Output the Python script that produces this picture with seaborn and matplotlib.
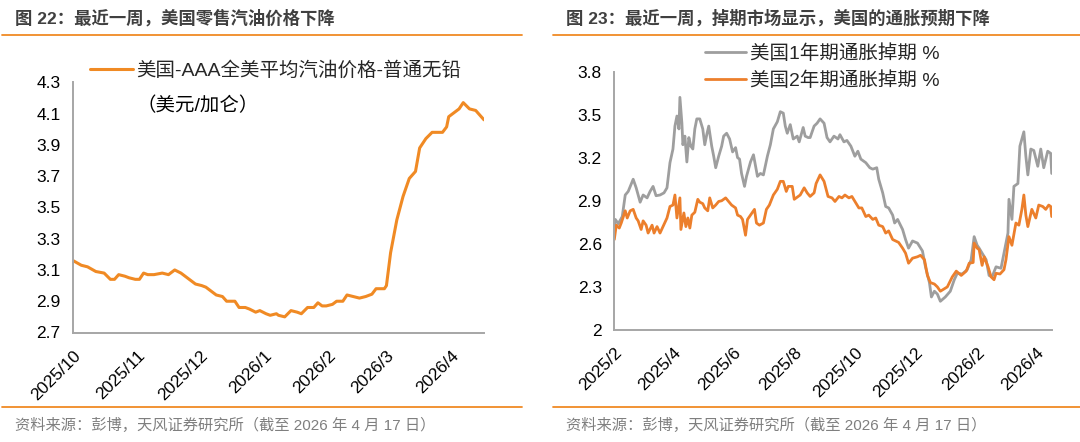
import numpy as np
import pandas as pd
import matplotlib
matplotlib.use("Agg")
import matplotlib.pyplot as plt
from matplotlib.lines import Line2D
import seaborn as sns

# ---------------- data ----------------
# Left chart: AAA US average regular gasoline price (USD / gallon)
GAS_START = "2025-10-01"
gas_day = [0, 4, 7, 11, 15, 18, 20, 22, 25, 27, 30, 32, 34, 36, 39, 43, 46, 49, 52, 54,
           57, 59, 62, 64, 67, 69, 72, 74, 78, 80, 83, 85, 88, 90, 93, 95, 98, 99, 102, 105,
           108, 110, 113, 116, 118, 120, 122, 125, 127, 130, 132, 135, 138, 141, 144, 146, 150, 151, 153, 156,
           159, 162, 165, 167, 170, 173, 175, 178, 180, 181, 184, 186, 188, 191, 194, 196, 198]
gas_price = [3.16, 3.13, 3.12, 3.09, 3.08, 3.04, 3.04, 3.07, 3.06, 3.05, 3.04, 3.04, 3.08, 3.07, 3.07, 3.08, 3.07, 3.10, 3.08, 3.06,
             3.03, 3.01, 3.00, 2.99, 2.96, 2.94, 2.93, 2.90, 2.90, 2.86, 2.86, 2.85, 2.83, 2.84, 2.82, 2.81, 2.82, 2.81, 2.80, 2.84,
             2.83, 2.82, 2.86, 2.86, 2.89, 2.87, 2.87, 2.88, 2.90, 2.90, 2.94, 2.93, 2.92, 2.93, 2.945, 2.98, 2.98, 3.00, 3.21, 3.42,
             3.57, 3.685, 3.73, 3.88, 3.94, 3.98, 3.98, 3.98, 4.015, 4.08, 4.11, 4.13, 4.17, 4.13, 4.12, 4.09, 4.06]
gas_label = "美国-AAA全美平均汽油价格-普通无铅"
gas_unit = "（美元/加仑）"
gas_xticks = ["2025-10-01", "2025-11-01", "2025-12-01", "2026-01-01", "2026-02-01", "2026-03-01", "2026-04-01"]
gas_xlabels = ["2025/10", "2025/11", "2025/12", "2026/1", "2026/2", "2026/3", "2026/4"]
gas_yticks = [2.7, 2.9, 3.1, 3.3, 3.5, 3.7, 3.9, 4.1, 4.3]
gas_ylabels = ["2.7", "2.9", "3.1", "3.3", "3.5", "3.7", "3.9", "4.1", "4.3"]

# Right chart: US inflation swaps (%)
SWAP_START = "2025-02-01"
swap1_day = [0, 1, 4, 8, 11, 14, 19, 22, 26, 29, 33, 36, 39, 42, 46, 50, 53, 56, 59, 61,
             63, 65, 66, 68, 69, 71, 73, 75, 77, 79, 81, 83, 86, 89, 91, 93, 95, 98, 100, 102,
             105, 108, 110, 113, 116, 119, 122, 124, 126, 128, 131, 133, 135, 137, 140, 144, 147, 150, 154, 157,
             160, 164, 167, 170, 172, 174, 177, 180, 184, 186, 190, 192, 195, 197, 201, 204, 207, 211, 214, 217,
             221, 225, 227, 231, 234, 238, 242, 245, 248, 253, 257, 260, 264, 266, 270, 273, 276, 280, 282, 285,
             290, 293, 296, 300, 305, 310, 313, 317, 319, 322, 325, 328, 333, 338, 342, 345, 350, 355, 359, 362,
             365, 367, 370, 374, 377, 380, 384, 389, 392, 396, 397, 400, 402, 406, 408, 412, 414, 416, 419, 422,
             426, 429, 432, 436, 439, 440]
swap1_val = [2.72, 2.77, 2.74, 2.79, 2.94, 2.965, 3.05, 2.99, 2.89, 2.94, 2.92, 2.965, 3.00, 2.935, 2.94, 2.955, 2.99, 3.165, 3.26, 3.42,
             3.49, 3.40, 3.62, 3.44, 3.29, 3.35, 3.17, 3.34, 3.28, 3.26, 3.40, 3.47, 3.47, 3.40, 3.29, 3.36, 3.42, 3.28, 3.21, 3.13,
             3.21, 3.28, 3.35, 3.37, 3.33, 3.24, 3.27, 3.20, 3.19, 3.09, 3.00, 3.07, 3.12, 3.17, 3.22, 3.07, 3.09, 3.08, 3.21, 3.29,
             3.40, 3.45, 3.52, 3.51, 3.42, 3.37, 3.43, 3.33, 3.35, 3.31, 3.41, 3.35, 3.34, 3.34, 3.42, 3.44, 3.47, 3.44, 3.34, 3.31,
             3.35, 3.33, 3.36, 3.31, 3.32, 3.28, 3.21, 3.245, 3.19, 3.165, 3.13, 3.12, 3.13, 3.05, 2.955, 2.86, 2.85, 2.80, 2.745, 2.77,
             2.70, 2.63, 2.57, 2.62, 2.605, 2.55, 2.44, 2.33, 2.23, 2.27, 2.25, 2.20, 2.23, 2.27, 2.35, 2.395, 2.39, 2.42, 2.49, 2.65,
             2.59, 2.57, 2.535, 2.49, 2.38, 2.37, 2.44, 2.43, 2.535, 2.675, 2.91, 2.77, 3.00, 3.02, 3.28, 3.38, 3.21, 3.08, 3.26, 3.25,
             3.14, 3.26, 3.13, 3.245, 3.23, 3.09]
swap2_day = [0, 2, 5, 7, 11, 13, 16, 19, 22, 24, 27, 29, 32, 34, 38, 40, 43, 46, 49, 53,
             56, 59, 61, 63, 66, 67, 70, 72, 74, 76, 78, 81, 84, 86, 89, 91, 94, 96, 99, 102,
             105, 108, 112, 115, 118, 122, 124, 127, 129, 132, 134, 137, 141, 143, 146, 150, 153, 156, 160, 164,
             167, 170, 173, 175, 179, 181, 185, 187, 191, 194, 197, 201, 203, 207, 211, 215, 219, 222, 226, 229,
             232, 236, 239, 243, 246, 249, 253, 256, 260, 263, 266, 270, 273, 276, 280, 283, 286, 290, 293, 296,
             300, 305, 308, 312, 315, 318, 322, 325, 328, 335, 340, 344, 349, 354, 357, 361, 362, 365, 367, 370,
             372, 376, 379, 382, 384, 388, 392, 394, 397, 400, 404, 407, 410, 412, 414, 416, 420, 424, 427, 431,
             434, 437, 439, 440]
swap2_val = [2.63, 2.73, 2.71, 2.745, 2.83, 2.78, 2.83, 2.84, 2.78, 2.76, 2.70, 2.76, 2.73, 2.675, 2.73, 2.675, 2.72, 2.675, 2.72, 2.78,
             2.86, 2.87, 2.94, 2.78, 2.92, 2.70, 2.815, 2.72, 2.78, 2.71, 2.80, 2.82, 2.91, 2.89, 2.88, 2.85, 2.83, 2.92, 2.85, 2.87,
             2.895, 2.90, 2.92, 2.895, 2.87, 2.85, 2.80, 2.79, 2.77, 2.66, 2.77, 2.80, 2.84, 2.745, 2.73, 2.745, 2.84, 2.87, 2.94, 2.98,
             3.035, 3.035, 2.965, 3.00, 3.00, 2.91, 2.93, 2.94, 2.99, 2.955, 2.93, 2.955, 3.02, 3.08, 3.035, 2.93, 2.92, 2.895, 2.93, 2.92,
             2.94, 2.92, 2.93, 2.885, 2.85, 2.85, 2.79, 2.80, 2.77, 2.78, 2.73, 2.72, 2.675, 2.69, 2.63, 2.62, 2.61, 2.57, 2.535, 2.465,
             2.50, 2.51, 2.52, 2.49, 2.38, 2.33, 2.32, 2.30, 2.27, 2.30, 2.37, 2.41, 2.38, 2.41, 2.465, 2.47, 2.605, 2.57, 2.56, 2.45,
             2.51, 2.44, 2.37, 2.35, 2.395, 2.39, 2.42, 2.49, 2.65, 2.59, 2.745, 2.73, 2.84, 2.94, 2.80, 2.72, 2.84, 2.78, 2.87, 2.86,
             2.84, 2.87, 2.86, 2.79]
swap1_label = "美国1年期通胀掉期 %"
swap2_label = "美国2年期通胀掉期 %"
swap_xticks = ["2025-02-01", "2025-04-01", "2025-06-01", "2025-08-01", "2025-10-01", "2025-12-01", "2026-02-01", "2026-04-01"]
swap_xlabels = ["2025/2", "2025/4", "2025/6", "2025/8", "2025/10", "2025/12", "2026/2", "2026/4"]
swap_yticks = [2.0, 2.3, 2.6, 2.9, 3.2, 3.5, 3.8]
swap_ylabels = ["2", "2.3", "2.6", "2.9", "3.2", "3.5", "3.8"]

title_left = "图 22：最近一周，美国零售汽油价格下降"
title_right = "图 23：最近一周，掉期市场显示，美国的通胀预期下降"
source_text = "资料来源：彭博，天风证券研究所（截至 2026 年 4 月 17 日）"

# ---------------- style ----------------
sns.set_style("white")
plt.rcParams["font.family"] = ["Liberation Sans", "Noto Sans CJK SC", "DejaVu Sans"]
plt.rcParams["axes.unicode_minus"] = False

ORANGE = "#F08A24"
ORANGE2 = "#EC7F2C"
GRAY = "#9E9E9E"
AXIS = "#A6A6A6"
TITLE_C = "#404040"
SRC_C = "#7F7F7F"

W, H = 1080, 442
fig = plt.figure(figsize=(W / 100, H / 100), dpi=100)
fig.patch.set_facecolor("white")


def fx(px):
    return px / W


def fy(py):
    return 1 - py / H


def style_axes(ax, xticks, xlabels, yticks, ylabels):
    for s in ["top", "right"]:
        ax.spines[s].set_visible(False)
    for s in ["left", "bottom"]:
        ax.spines[s].set_color(AXIS)
        ax.spines[s].set_linewidth(1.4)
    ax.set_xticks(pd.to_datetime(xticks))
    ax.set_xticklabels(xlabels, rotation=45, ha="right", rotation_mode="anchor")
    ax.set_yticks(yticks)
    ax.set_yticklabels(ylabels)
    ax.tick_params(axis="both", which="major", length=5, width=1.2, color=AXIS,
                   labelsize=12.5, labelcolor="black", direction="out", pad=4)
    ax.tick_params(axis="x", pad=6)
    ax.set_xlabel("")
    ax.set_ylabel("")
    ax.grid(False)


# ---------------- left chart ----------------
gas_df = pd.DataFrame({
    "date": pd.Timestamp(GAS_START) + pd.to_timedelta(gas_day, unit="D"),
    "price": gas_price,
})
axL = fig.add_axes([fx(73), fy(332.5), fx(484 - 73), (332.5 - 82.3) / H])
sns.lineplot(data=gas_df, x="date", y="price", ax=axL, color=ORANGE, linewidth=2.2, label=gas_label)
axL.set_xlim(pd.Timestamp(GAS_START), gas_df["date"].iloc[-1])
axL.set_ylim(2.7, 4.3)
style_axes(axL, gas_xticks, gas_xlabels, gas_yticks, gas_ylabels)
legL = axL.legend(loc="upper left", bbox_to_anchor=(fx(90), fy(61)), bbox_transform=fig.transFigure,
                  frameon=False, fontsize=14, handlelength=2.2, handletextpad=0.2,
                  borderpad=0, borderaxespad=0)
fig.text(fx(136), fy(106), gas_unit, fontsize=14, va="center", ha="left", color="black")

# ---------------- right chart ----------------
s1 = pd.DataFrame({
    "date": pd.Timestamp(SWAP_START) + pd.to_timedelta(swap1_day, unit="D"),
    "value": swap1_val, "series": swap1_label})
s2 = pd.DataFrame({
    "date": pd.Timestamp(SWAP_START) + pd.to_timedelta(swap2_day, unit="D"),
    "value": swap2_val, "series": swap2_label})
swap_df = pd.concat([s1, s2], ignore_index=True)
axR = fig.add_axes([fx(614.3), fy(330), fx(1051.7 - 614.3), (330 - 71.5) / H])
sns.lineplot(data=swap_df, x="date", y="value", hue="series", ax=axR,
             palette={swap1_label: GRAY, swap2_label: ORANGE2}, linewidth=2.0, estimator=None)
axR.set_xlim(pd.Timestamp(SWAP_START), pd.Timestamp(SWAP_START) + pd.Timedelta(days=440))
axR.set_ylim(2.0, 3.8)
style_axes(axR, swap_xticks, swap_xlabels, swap_yticks, swap_ylabels)
legR = axR.legend(loc="upper left", bbox_to_anchor=(fx(705), fy(44)), bbox_transform=fig.transFigure,
                  frameon=False, fontsize=14, handlelength=2.1, handletextpad=0.2,
                  borderpad=0, borderaxespad=0, labelspacing=0.42, title=None)

# ---------------- titles, rules, source ----------------
fig.text(fx(15), fy(18), title_left, fontsize=12.5, fontweight="bold", color=TITLE_C, va="center", ha="left")
fig.text(fx(566), fy(18), title_right, fontsize=12.5, fontweight="bold", color=TITLE_C, va="center", ha="left")
for (x0, x1) in [(2, 522), (553, 1080)]:
    for yy in (34.7, 407):
        fig.add_artist(Line2D([fx(x0), fx(x1)], [fy(yy), fy(yy)], color=ORANGE, linewidth=1.3))
fig.text(fx(15), fy(425), source_text, fontsize=11, color=SRC_C, va="center", ha="left")
fig.text(fx(566), fy(425), source_text, fontsize=11, color=SRC_C, va="center", ha="left")

fig.savefig("out.png", dpi=100, facecolor="white")
